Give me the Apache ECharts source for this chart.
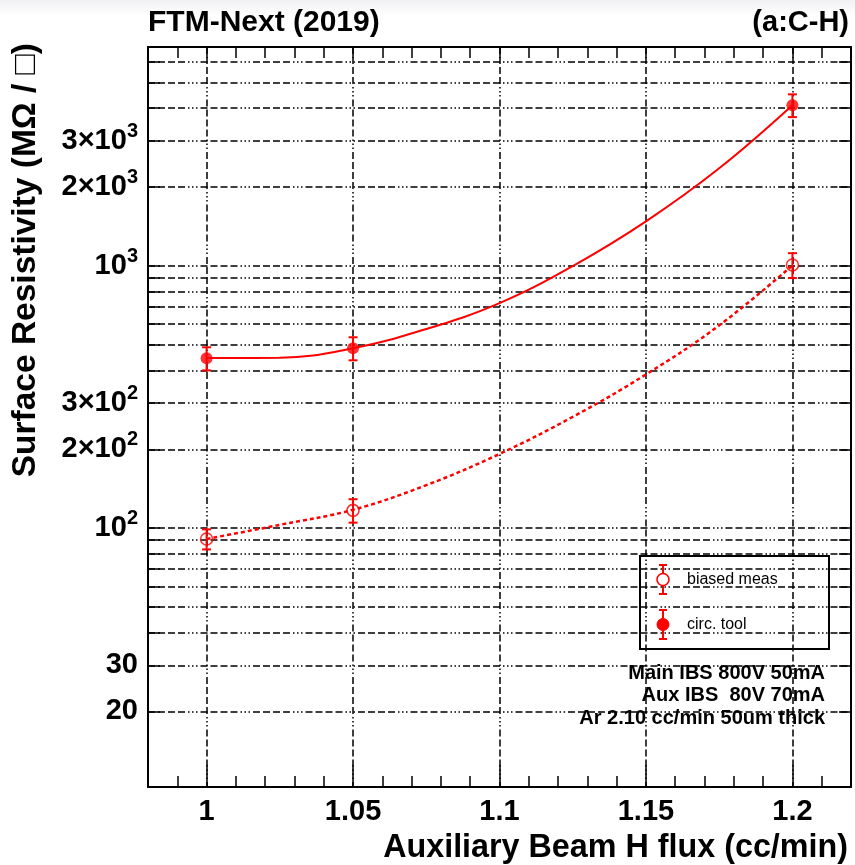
<!DOCTYPE html>
<html>
<head>
<meta charset="utf-8">
<title>FTM-Next (2019) surface resistivity</title>
<script src="https://cdn.jsdelivr.net/npm/echarts@6/dist/echarts.min.js"></script>
<style>
  html, body { margin: 0; padding: 0; background: #fff; }
  #main { width: 855px; height: 865px; }
</style>
</head>
<body>
<div id="main"></div>
<script>
// measured points: aux beam H flux (cc/min) vs surface resistivity (MOhm/sq)
var fluxPoints = [1.0, 1.05, 1.2];
var biasedMeas = [91, 117, 1010];
var biasedErr = [8, 12, 110];
var circTool = [445, 486, 4110];
var circErr = [45, 49, 410];

// fit curves
var fitX = [1.0, 1.025, 1.05, 1.075, 1.1, 1.125, 1.15, 1.175, 1.2];
var circFitY = [446, 447, 486, 575, 722, 1000, 1481, 2360, 4107];
var biasedFitY = [91, 103, 117.6, 146, 192, 266, 386, 594, 1006];

// axis ticks
var xMajor = [1, 1.05, 1.1, 1.15, 1.2];
var xMinor = [0.99, 1.0, 1.01, 1.02, 1.03, 1.04, 1.05, 1.06, 1.07, 1.08, 1.09, 1.1,
  1.11, 1.12, 1.13, 1.14, 1.15, 1.16, 1.17, 1.18, 1.19, 1.2, 1.21];
var yGrid = [20, 30, 40, 50, 60, 70, 80, 90, 100, 200, 300, 400, 500, 600, 700, 800, 900,
  1000, 2000, 3000, 4000, 5000, 6000];
var yLabelVals = [20, 30, 100, 200, 300, 1000, 2000, 3000];
var yLabelText = ['20', '30', '10{sup|2}', '2\u00d710{sup|2}', '3\u00d710{sup|2}',
  '10{sup|3}', '2\u00d710{sup|3}', '3\u00d710{sup|3}'];

var FONT = '"Liberation Sans", Arial, Helvetica, sans-serif';
var RED = '#ff0000';
var gridLine = { color: '#000', width: 1.5, type: [7, 3, 7, 3, 7, 3, 7, 3, 1.5, 2.5, 1.5, 2.5, 1.5, 3] };

function yLabel(v) {
  if (v < 5) v = Math.pow(10, v);
  for (var i = 0; i < yLabelVals.length; i++) {
    if (Math.abs(Math.log10(v) - Math.log10(yLabelVals[i])) < 0.005) return yLabelText[i];
  }
  return '';
}

function errRender(params, api) {
  var x = api.value(0), y = api.value(1), e = api.value(2);
  var top = api.coord([x, y + e]);
  var bot = api.coord([x, y - e]);
  var st = { stroke: RED, lineWidth: 2 };
  return {
    type: 'group',
    children: [
      { type: 'line', shape: { x1: top[0], y1: top[1], x2: bot[0], y2: bot[1] }, style: st },
      { type: 'line', shape: { x1: top[0] - 4.5, y1: top[1], x2: top[0] + 4.5, y2: top[1] }, style: st },
      { type: 'line', shape: { x1: bot[0] - 4.5, y1: bot[1], x2: bot[0] + 4.5, y2: bot[1] }, style: st }
    ]
  };
}

function pairs(xs, ys) {
  return xs.map(function (x, i) { return [x, ys[i]]; });
}
function triples(xs, ys, es) {
  return xs.map(function (x, i) { return [x, ys[i], es[i]]; });
}

var myChart = echarts.init(document.getElementById('main'));

var xBase = { type: 'value', min: 0.98, max: 1.22 };
var yBase = { type: 'log', logBase: 10, min: 10.3, max: 6850 };

myChart.setOption({
  backgroundColor: '#fff',
  animation: false,
  grid: { left: 148, top: 47, width: 703, height: 740 },
  xAxis: [
    Object.assign({}, xBase, {
      position: 'bottom',
      axisLine: { show: true, onZero: false, lineStyle: { color: '#000', width: 2 } },
      axisTick: { show: true, inside: true, length: 11, customValues: xMinor, lineStyle: { color: '#000', width: 1.5 } },
      axisLabel: {
        customValues: xMajor, margin: 10, color: '#000', fontSize: 29, fontWeight: 'bold', fontFamily: FONT,
        formatter: function (v) { return String(Number(v.toFixed(2))); }
      },
      splitLine: { show: false }
    }),
    Object.assign({}, xBase, {
      position: 'top',
      axisLine: { show: true, onZero: false, lineStyle: { color: '#000', width: 2 } },
      axisTick: { show: true, inside: true, length: 11, customValues: xMinor, lineStyle: { color: '#000', width: 1.5 } },
      axisLabel: { show: false },
      splitLine: { show: false }
    }),
    Object.assign({}, xBase, {
      position: 'bottom',
      axisLine: { show: false },
      axisTick: { show: true, inside: true, length: 22, customValues: xMajor, lineStyle: { color: '#000', width: 1.5 } },
      axisLabel: { show: false },
      splitLine: { show: true, lineStyle: gridLine }
    })
  ],
  yAxis: [
    Object.assign({}, yBase, {
      position: 'left',
      axisLine: { show: true, onZero: false, lineStyle: { color: '#000', width: 2 } },
      axisTick: { show: true, inside: true, length: 12, customValues: yGrid, lineStyle: { color: '#000', width: 1.5 } },
      axisLabel: {
        customValues: yLabelVals, margin: 10, color: '#000', fontSize: 29, fontWeight: 'bold', fontFamily: FONT,
        lineHeight: 40, formatter: yLabel,
        rich: { sup: { fontSize: 20, lineHeight: 20, verticalAlign: 'top', fontWeight: 'bold', fontFamily: FONT, color: '#000' } }
      },
      splitLine: { show: true, lineStyle: gridLine }
    }),
    Object.assign({}, yBase, {
      position: 'right',
      axisLine: { show: true, onZero: false, lineStyle: { color: '#000', width: 2 } },
      axisTick: { show: true, inside: true, length: 12, customValues: yGrid, lineStyle: { color: '#000', width: 1.5 } },
      axisLabel: { show: false },
      splitLine: { show: false }
    })
  ],
  series: [
    {
      name: 'biased fit', type: 'line', smooth: 0.4, showSymbol: false, silent: true,
      data: pairs(fitX, biasedFitY), lineStyle: { color: RED, width: 2.5, type: [4, 3] }, z: 3
    },
    {
      name: 'circ fit', type: 'line', smooth: 0.4, showSymbol: false, silent: true,
      data: pairs(fitX, circFitY), lineStyle: { color: RED, width: 2 }, z: 3
    },
    {
      name: 'biased err', type: 'custom', renderItem: errRender, z: 4,
      data: triples(fluxPoints, biasedMeas, biasedErr)
    },
    {
      name: 'circ err', type: 'custom', renderItem: errRender, z: 4,
      data: triples(fluxPoints, circTool, circErr)
    },
    {
      name: 'biased meas', type: 'scatter', symbol: 'circle', symbolSize: 12, z: 5,
      itemStyle: { color: 'rgba(255,255,255,0)', borderColor: RED, borderWidth: 1.6 },
      data: pairs(fluxPoints, biasedMeas)
    },
    {
      name: 'circ. tool', type: 'scatter', symbol: 'circle', symbolSize: 12, z: 5,
      itemStyle: { color: RED },
      data: pairs(fluxPoints, circTool)
    }
  ],
  graphic: [
    {
      type: 'rect', left: 0, top: 0, z: -10, silent: true,
      shape: { width: 855, height: 16 },
      style: { fill: new echarts.graphic.LinearGradient(0, 0, 0, 1, [{ offset: 0, color: '#f1f1f4' }, { offset: 1, color: '#ffffff' }]) }
    },
    {
      type: 'text', x: 148, y: 23,
      style: { text: 'FTM-Next (2019)', fill: '#000', font: 'bold 30px ' + FONT, textAlign: 'left', textVerticalAlign: 'middle' }
    },
    {
      type: 'text', x: 849, y: 23,
      style: { text: '(a:C-H)', fill: '#000', font: 'bold 29px ' + FONT, textAlign: 'right', textVerticalAlign: 'middle' }
    },
    {
      type: 'text', x: 26, y: 43, rotation: Math.PI / 2,
      style: { text: 'Surface Resistivity (M\u03a9 / \u25a1)', fill: '#000', font: 'bold 33.5px ' + FONT, textAlign: 'right', textVerticalAlign: 'middle' }
    },
    {
      type: 'text', x: 848, y: 848,
      style: { text: 'Auxiliary Beam H flux (cc/min)', fill: '#000', font: 'bold 32.3px ' + FONT, textAlign: 'right', textVerticalAlign: 'middle' }
    },
    {
      type: 'text', x: 825, y: 673,
      style: { text: 'Main IBS 800V 50mA', fill: '#000', font: 'bold 20px ' + FONT, textAlign: 'right', textVerticalAlign: 'middle' }
    },
    {
      type: 'text', x: 825, y: 695,
      style: { text: 'Aux IBS  80V 70mA', fill: '#000', font: 'bold 20px ' + FONT, textAlign: 'right', textVerticalAlign: 'middle' }
    },
    {
      type: 'text', x: 825, y: 718,
      style: { text: 'Ar 2.10 cc/min 50um thick', fill: '#000', font: 'bold 20px ' + FONT, textAlign: 'right', textVerticalAlign: 'middle' }
    },
    // legend box
    {
      type: 'group', x: 640, y: 556, z: 20,
      children: [
        { type: 'rect', shape: { x: 0, y: 0, width: 189, height: 93 }, style: { fill: '#fff', stroke: '#000', lineWidth: 2 } },
        { type: 'line', shape: { x1: 23, y1: 9, x2: 23, y2: 38 }, style: { stroke: RED, lineWidth: 2 } },
        { type: 'line', shape: { x1: 19, y1: 9, x2: 27, y2: 9 }, style: { stroke: RED, lineWidth: 2 } },
        { type: 'line', shape: { x1: 19, y1: 38, x2: 27, y2: 38 }, style: { stroke: RED, lineWidth: 2 } },
        { type: 'circle', shape: { cx: 23, cy: 23.5, r: 6 }, style: { fill: '#fff', stroke: RED, lineWidth: 1.6 } },
        { type: 'text', x: 47, y: 23.5, style: { text: 'biased meas', fill: '#000', font: '16px ' + FONT, textVerticalAlign: 'middle' } },
        { type: 'line', shape: { x1: 23, y1: 54, x2: 23, y2: 83 }, style: { stroke: RED, lineWidth: 2 } },
        { type: 'line', shape: { x1: 19, y1: 54, x2: 27, y2: 54 }, style: { stroke: RED, lineWidth: 2 } },
        { type: 'line', shape: { x1: 19, y1: 83, x2: 27, y2: 83 }, style: { stroke: RED, lineWidth: 2 } },
        { type: 'circle', shape: { cx: 23, cy: 68.5, r: 6 }, style: { fill: RED, stroke: RED, lineWidth: 1 } },
        { type: 'text', x: 47, y: 68.5, style: { text: 'circ. tool', fill: '#000', font: '16px ' + FONT, textVerticalAlign: 'middle' } }
      ]
    }
  ]
});
</script>
</body>
</html>
